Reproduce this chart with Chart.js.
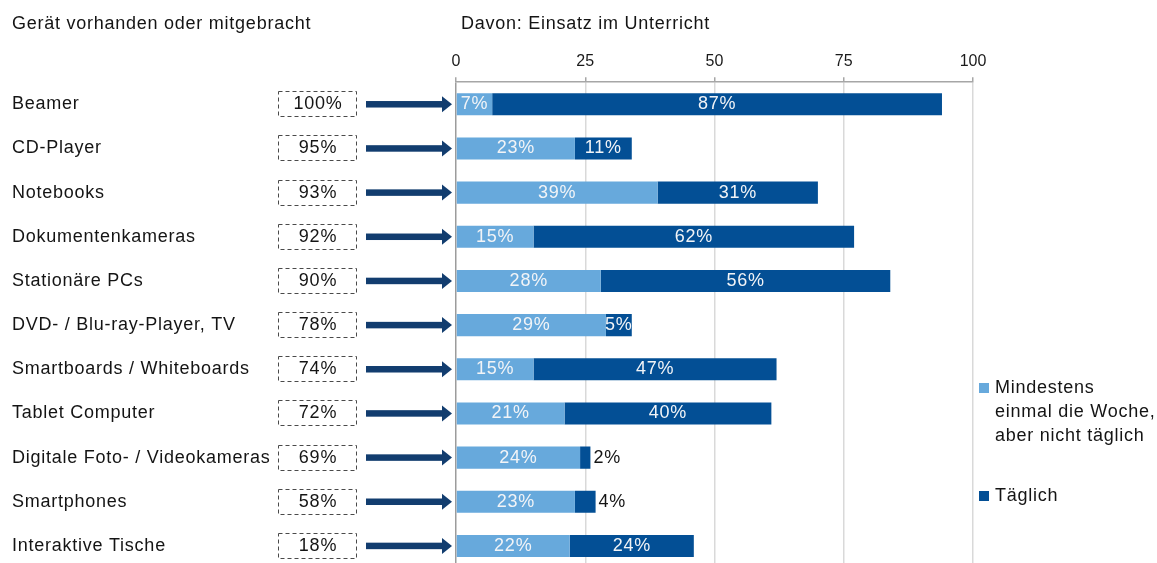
<!DOCTYPE html>
<html>
<head>
<meta charset="utf-8">
<script src="https://cdn.jsdelivr.net/npm/chart.js@4/dist/chart.umd.min.js"></script>
<style>
html,body{margin:0;padding:0;background:#fff;overflow:hidden;}
#wrap{width:1157px;height:568px;position:relative;}
</style>
</head>
<body>
<div id="wrap"><canvas id="c"></canvas></div>
<script>
const categories = ['Beamer','CD-Player','Notebooks','Dokumentenkameras','Stationäre PCs','DVD- / Blu-ray-Player, TV','Smartboards / Whiteboards','Tablet Computer','Digitale Foto- / Videokameras','Smartphones','Interaktive Tische'];
const ownedShare = [100,95,93,92,90,78,74,72,69,58,18];
const weeklyValues = [7,23,39,15,28,29,15,21,24,23,22];
const dailyValues = [87,11,31,62,56,5,47,40,2,4,24];
const xTicks = [0,25,50,75,100];
const weeklyLabelLines = ['Mindestens','einmal die Woche,','aber nicht täglich'];
const dailyLabelLines = ['Täglich'];
const titleLeft = 'Gerät vorhanden oder mitgebracht';
const titleRight = 'Davon: Einsatz im Unterricht';

const LIGHT = '#67a9dc';
const DARK = '#034f95';
const ARROW = '#123d6f';
const TEXT = '#141414';
const FONT = '18px "Liberation Sans", Arial, sans-serif';

const overlay = {
  id: 'overlay',
  afterDraw(chart) {
    const ctx = chart.ctx;
    const y = chart.scales.y;
    ctx.save();
    ctx.font = FONT;
    try { ctx.letterSpacing = '0.75px'; } catch(e) {}
    ctx.fillStyle = TEXT;
    ctx.textBaseline = 'middle';
    ctx.textAlign = 'left';
    ctx.fillText(titleLeft, 12, 24);
    ctx.fillText(titleRight, 461, 24);

    categories.forEach((cat, i) => {
      const yc = y.getPixelForValue(i);
      ctx.fillStyle = TEXT;
      ctx.textAlign = 'left';
      ctx.fillText(cat, 12, yc);
      // dashed box
      ctx.save();
      ctx.strokeStyle = '#4a4a4a';
      ctx.lineWidth = 1;
      ctx.setLineDash([4, 3]);
      ctx.strokeRect(278.5, Math.round(yc) - 12.5, 78, 25);
      ctx.restore();
      ctx.textAlign = 'center';
      ctx.fillText(ownedShare[i] + '%', 318, yc);
      // arrow
      ctx.fillStyle = ARROW;
      ctx.fillRect(366, yc - 3.25, 77, 6.5);
      ctx.beginPath();
      ctx.moveTo(442, yc - 8);
      ctx.lineTo(452, yc);
      ctx.lineTo(442, yc + 8);
      ctx.closePath();
      ctx.fill();
    });

    // bar value labels
    chart.data.datasets.forEach((ds, d) => {
      const meta = chart.getDatasetMeta(d);
      meta.data.forEach((el, i) => {
        const v = ds.data[i];
        const txt = v + '%';
        const left = Math.min(el.x, el.base), right = Math.max(el.x, el.base);
        const w = right - left;
        const tw = ctx.measureText(txt).width;
        if (w >= tw * 0.8) {
          ctx.fillStyle = '#f2f4f7';
          ctx.textAlign = 'center';
          ctx.fillText(txt, (left + right) / 2, el.y);
        } else {
          ctx.fillStyle = TEXT;
          ctx.textAlign = 'left';
          ctx.fillText(txt, right + 3, el.y);
        }
      });
    });

    // legend
    const legendItems = [
      {color: chart.data.datasets[0].backgroundColor, lines: weeklyLabelLines, y: 388},
      {color: chart.data.datasets[1].backgroundColor, lines: dailyLabelLines, y: 496}
    ];
    legendItems.forEach(it => {
      ctx.fillStyle = it.color;
      ctx.fillRect(979, it.y - 5, 10, 10);
      ctx.fillStyle = TEXT;
      ctx.textAlign = 'left';
      it.lines.forEach((ln, k) => ctx.fillText(ln, 995, it.y + k * 24));
    });
    ctx.restore();
  }
};

new Chart(document.getElementById('c'), {
  type: 'bar',
  data: {
    labels: categories,
    datasets: [
      {label: weeklyLabelLines.join(' '), data: weeklyValues, backgroundColor: LIGHT, borderWidth: 0},
      {label: dailyLabelLines.join(' '), data: dailyValues, backgroundColor: DARK, borderWidth: 0}
    ]
  },
  options: {
    indexAxis: 'y',
    responsive: true,
    maintainAspectRatio: false,
    animation: false,
    events: [],
    layout: {padding: {left: 456, right: 184, top: 46, bottom: 0}},
    datasets: {bar: {barPercentage: 0.5, categoryPercentage: 1}},
    plugins: {legend: {display: false}, tooltip: {enabled: false}},
    scales: {
      x: {
        position: 'top',
        stacked: true,
        min: xTicks[0],
        max: xTicks[xTicks.length - 1],
        afterBuildTicks: s => { s.ticks = xTicks.map(v => ({value: v})); },
        ticks: {padding: 6, color: '#1a1a1a', font: {size: 16, family: '"Liberation Sans", Arial, sans-serif'}},
        grid: {
          color: c => (c.tick && c.tick.value === 0) ? '#9c9c9c' : '#d9d9d9',
          tickColor: '#a6a6a6',
          tickLength: 5,
          lineWidth: 1.5
        },
        border: {display: true, color: '#a6a6a6', width: 1.5}
      },
      y: {
        stacked: true,
        display: false
      }
    }
  },
  plugins: [overlay]
});
</script>
</body>
</html>
